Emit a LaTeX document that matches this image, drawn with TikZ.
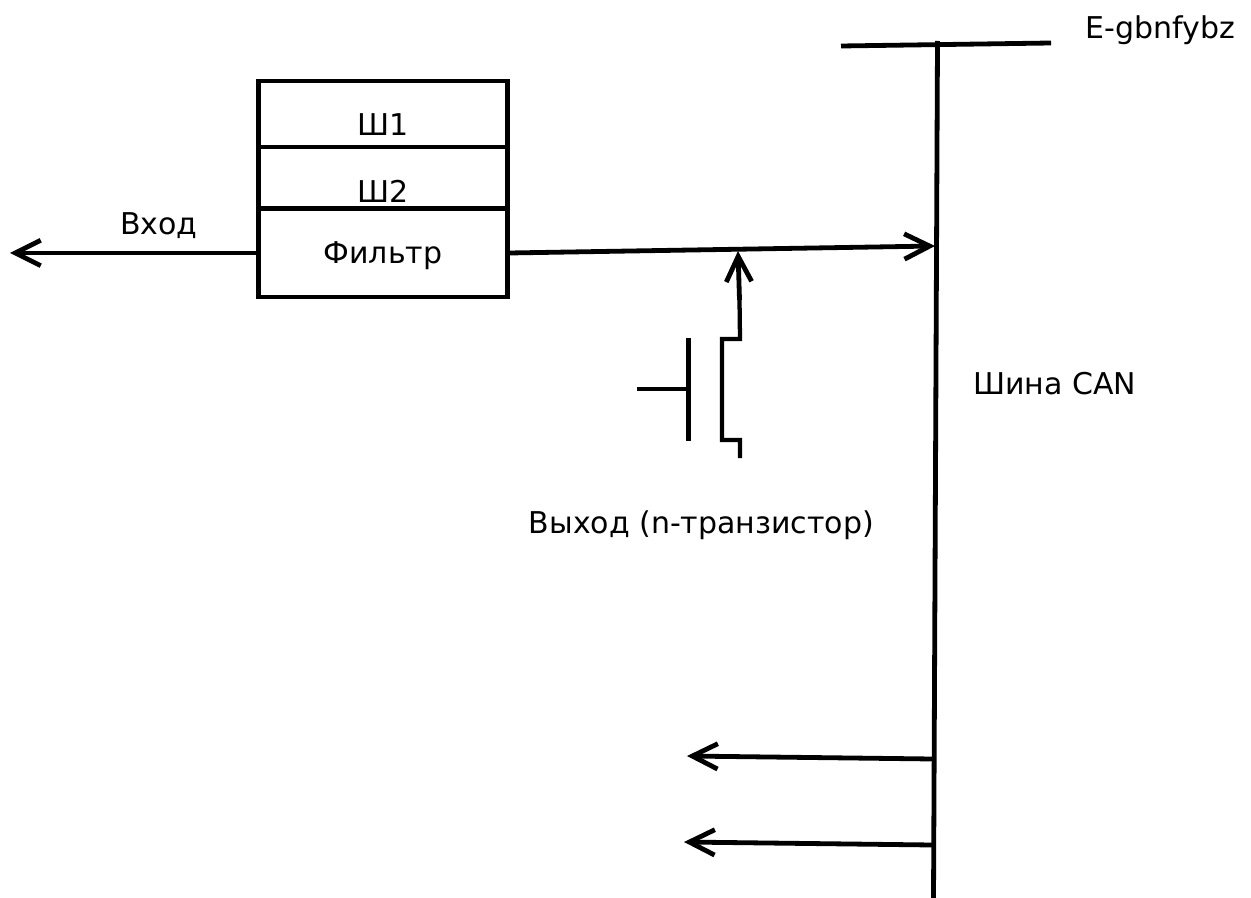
\documentclass[tikz,border=0pt]{standalone}
\usepackage{fontspec}
\setmainfont{DejaVu Sans}
\usetikzlibrary{arrows.meta}
\tikzset{
 wire/.style={line width=3.6pt,black,line cap=butt},
 thinwire/.style={line width=3.2pt,black,line cap=butt},
 arr/.style={wire,-{Straight Barb[length=19pt,width=19pt,line width=3.6pt]}},
 lbl/.style={font=\fontsize{22.5}{25}\selectfont,inner sep=0pt,text=black}
}
\begin{document}
\begin{tikzpicture}[x=0.75pt,y=-0.75pt]
\useasboundingbox (0,0) rectangle (1251,898);
% block
\node[draw,wire,outer sep=0pt,minimum width=186.75pt,minimum height=162pt,inner sep=0pt,anchor=north west] (box) at (258.5,81) {};
\coordinate (l1) at (258.5,147); \coordinate (r1) at (507.5,147);
\coordinate (l2) at (258.5,208.5); \coordinate (r2) at (507.5,208.5);
\draw[wire] (l1) -- (r1);
\draw[wire] (l2) -- (r2);
\node[lbl] (sh1) at (383,125) {Ш1};
\node[lbl] (sh2) at (383,191) {Ш2};
\node[lbl] (filt) at (383,256) {Фильтр};
% input
\coordinate (inl) at (258.5,253); \coordinate (inend) at (10,253);
\draw[arr] (inl) -- (inend);
\node[lbl] (vhod) at (159,226) {Вход};
% bus
\coordinate (bt) at (937.5,41); \coordinate (bb) at (933.5,898);
\draw[wire] (bt) -- (bb);
\coordinate (tl) at (841,46); \coordinate (tr) at (1051,43);
\draw[wire] (tl) -- (tr);
\node[lbl,anchor=base east] (eg) at (1235,39) {E-gbnfybz};
\node[lbl,anchor=base west] (shina) at (973,394) {Шина CAN};
% out
\coordinate (o1) at (509,253); \coordinate (o2) at (935,246);
\draw[arr] (o1) -- (o2);
% transistor
\coordinate (g0) at (637,389); \coordinate (g1) at (688,389);
\coordinate (gt) at (688.5,338); \coordinate (gb) at (688.5,441);
\draw[thinwire] (g0) -- (g1);
\draw[thinwire] (gt) -- (gb);
\coordinate (d0) at (740,458);
\draw[thinwire,line join=miter] (d0) -- (740,440) -- (722,440) -- (722,339) -- (740,339) -- (739.5,300);
\coordinate (dd) at (739.5,300); \coordinate (da) at (738,251);
\draw[arr] (dd) -- (da);
\node[lbl,anchor=base west] (vyh) at (528.5,533) {Выход (n-транзистор)};
% lower arrows
\coordinate (a1) at (933,759); \coordinate (a1e) at (687,756);
\coordinate (a2) at (933,845); \coordinate (a2e) at (684,842);
\draw[arr] (a1) -- (a1e);
\draw[arr] (a2) -- (a2e);
\end{tikzpicture}
\end{document}
